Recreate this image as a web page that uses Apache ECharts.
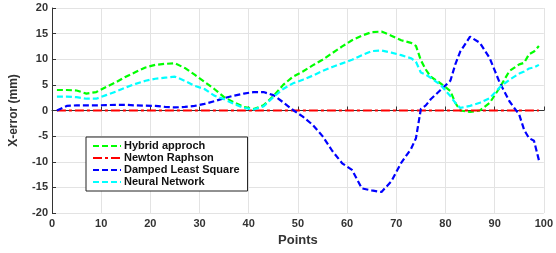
<!DOCTYPE html>
<html>
<head>
<meta charset="utf-8">
<script src="https://cdn.jsdelivr.net/npm/echarts@6/dist/echarts.min.js"></script>
<style>
  html, body { margin: 0; padding: 0; background: #fff; }
  #chart { width: 556px; height: 253px; }
</style>
</head>
<body>
<div id="chart"></div>
<script>
// sample points along the x axis
const xs = [1, 3, 5, 7, 9, 11, 13, 15, 17, 19, 21, 23, 25, 27, 29, 31, 33, 35, 37, 39,
  41, 43, 45, 47, 49, 51, 53, 55, 57, 59, 61, 63, 65, 67, 69, 71, 73, 74, 75, 76,
  77, 79, 81, 82, 83, 85, 87, 89, 91, 93, 95, 96, 97, 98, 99]

const hybrid = [4.0, 4.0, 3.9, 3.3, 3.6, 4.6, 5.5, 6.6, 7.5, 8.4, 8.9, 9.1, 9.2, 8.3, 7.0, 5.6, 4.2, 2.6, 1.6, 0.7,
  0.3, 1.0, 2.8, 5.0, 6.6, 7.6, 8.8, 9.9, 11.2, 12.5, 13.7, 14.6, 15.3, 15.4, 14.6, 13.7, 13.2, 12.6, 9.8, 8.0,
  6.6, 5.3, 3.8, 1.5, 0.0, -0.3, 0.0, 1.5, 4.4, 7.7, 9.0, 9.3, 11.0, 11.5, 12.6]

const newton = [0, 0, 0, 0, 0, 0, 0, 0, 0, 0, 0, 0, 0, 0, 0, 0, 0, 0, 0, 0,
  0, 0, 0, 0, 0, 0, 0, 0, 0, 0, 0, 0, 0, 0, 0, 0, 0, 0, 0, 0,
  0, 0, 0, 0, 0, 0, 0, 0, 0, 0, 0, 0, 0, 0, 0]

const damped = [0.0, 0.9, 1.0, 1.0, 1.0, 1.05, 1.1, 1.1, 1.0, 0.95, 0.9, 0.7, 0.6, 0.7, 0.9, 1.3, 1.8, 2.4, 2.9, 3.3,
  3.6, 3.6, 3.0, 1.6, 0.1, -1.2, -2.8, -5.0, -7.9, -10.3, -11.6, -15.2, -15.6, -15.9, -13.8, -10.2, -7.5, -5.4, 0.3, 1.0,
  2.2, 4.0, 5.8, 9.0, 11.5, 14.4, 13.2, 10.2, 5.5, 1.8, -0.8, -3.8, -5.4, -5.9, -9.7]

const neural = [2.7, 2.7, 2.6, 2.3, 2.3, 3.0, 3.7, 4.5, 5.2, 5.8, 6.2, 6.4, 6.6, 5.8, 4.8, 4.2, 2.9, 2.2, 1.3, 0.5,
  0.2, 0.8, 2.6, 4.2, 5.3, 6.0, 6.8, 7.7, 8.5, 9.2, 9.9, 10.8, 11.6, 11.7, 11.3, 10.8, 10.2, 9.5, 7.4, 7.0,
  6.4, 5.0, 2.8, 1.5, 0.5, 0.9, 1.5, 2.4, 4.5, 6.0, 7.2, 7.6, 8.2, 8.4, 8.9]

const seriesNames = ['Hybrid approch', 'Newton Raphson', 'Damped Least Square', 'Neural Network']
const seriesColors = ['#00ff00', '#ff0000', '#0000ff', '#00ffff']

const font = 'Liberation Sans, Arial, Helvetica, sans-serif'
const chart = echarts.init(document.getElementById('chart'))

function makeLine(name, ys, color, dash) {
  return {
    name,
    type: 'line',
    symbol: 'none',
    smooth: false,
    data: xs.map((x, i) => [x, ys[i]]),
    lineStyle: { color, width: 2.2, type: dash },
    itemStyle: { color },
    z: 3,
  }
}

chart.setOption({
  animation: false,
  grid: { left: 52, right: 11, top: 8, bottom: 40 },
  legend: {
    orient: 'vertical',
    left: 86,
    top: 137,
    width: 170,
    padding: [3, 8, 3, 6],
    itemWidth: 28,
    itemHeight: 8,
    itemGap: 0,
    backgroundColor: '#fff',
    borderColor: '#222',
    borderWidth: 1,
    itemStyle: { opacity: 0 },
    data: seriesNames,
    textStyle: { fontFamily: font, fontWeight: 'bold', fontSize: 11, lineHeight: 12, color: '#111', padding: [0, 0, 0, -2] },
  },
  xAxis: {
    type: 'value',
    min: 0,
    max: 100,
    interval: 10,
    name: 'Points',
    nameLocation: 'middle',
    nameGap: 20,
    nameTextStyle: { fontFamily: font, fontWeight: 'bold', fontSize: 13, color: '#333' },
    axisLine: { lineStyle: { color: '#333', width: 1 } },
    axisTick: { inside: true, length: 4, lineStyle: { color: '#333' } },
    axisLabel: { fontFamily: font, fontWeight: 'bold', fontSize: 11, color: '#333', margin: 5 },
    splitLine: { show: true, lineStyle: { color: '#e3e3e3', width: 1 } },
  },
  yAxis: {
    type: 'value',
    min: -20,
    max: 20,
    interval: 5,
    name: 'X-error (mm)',
    nameLocation: 'middle',
    nameGap: 32,
    nameTextStyle: { fontFamily: font, fontWeight: 'bold', fontSize: 12, color: '#333' },
    axisLine: { show: true, lineStyle: { color: '#333', width: 1 } },
    axisTick: { show: true, inside: true, length: 4, lineStyle: { color: '#333' } },
    axisLabel: { fontFamily: font, fontWeight: 'bold', fontSize: 11, color: '#333', margin: 4 },
    splitLine: { show: true, lineStyle: { color: '#e3e3e3', width: 1 } },
  },
  series: [
    makeLine(seriesNames[0], hybrid, seriesColors[0], [6, 3]),
    makeLine(seriesNames[1], newton, seriesColors[1], [9, 3, 3, 3]),
    makeLine(seriesNames[2], damped, seriesColors[2], [6, 3]),
    makeLine(seriesNames[3], neural, seriesColors[3], [6, 3]),
  ],
})
</script>
</body>
</html>
